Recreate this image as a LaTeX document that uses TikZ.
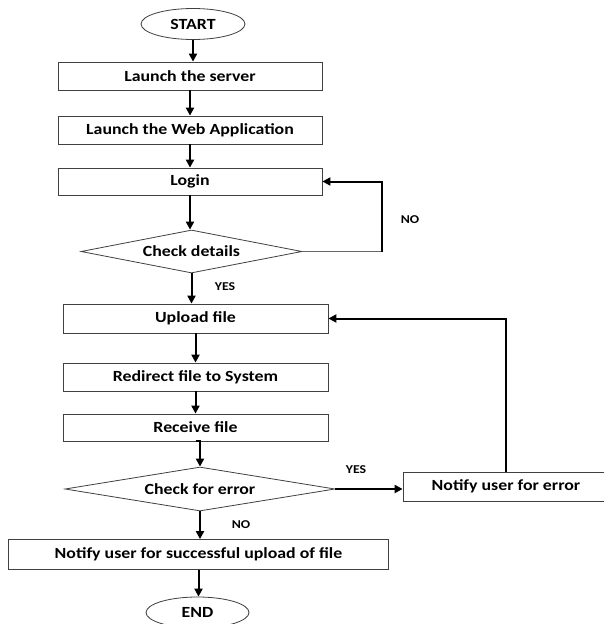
\documentclass[tikz,border=0pt]{standalone}
\usepackage{fontspec}
\setmainfont{Carlito}[FakeStretch=1.15]
\usetikzlibrary{shapes.geometric,arrows.meta}
\tikzset{
  base/.style={draw=black!75, line width=0.8pt, fill=white, font=\bfseries\fontsize{15.5}{17}\selectfont, inner sep=0pt},
  procbox/.style={base, rectangle},
  termin/.style={base, ellipse},
  decide/.style={base, diamond, aspect=5},
  arr/.style={line width=2pt, -{Triangle[length=8pt,width=8pt]}},
  thinline/.style={draw=black!60, line width=0.8pt},
  lbl/.style={font=\bfseries\fontsize{12}{14}\selectfont, inner sep=0pt}
}
\begin{document}
\begin{tikzpicture}[x=1pt,y=-1pt]
\useasboundingbox (0,0) rectangle (604,624);
\node[termin, minimum width=104pt, minimum height=31pt] (start) at (193,24) {START};
\node[procbox, minimum width=264pt, minimum height=28pt] (server) at (190,76) {Launch the server};
\node[procbox, minimum width=264pt, minimum height=28pt] (webapp) at (190,130) {Launch the Web Application};
\node[procbox, minimum width=264pt, minimum height=27pt] (login) at (190,181.5) {Login};
\node[decide, minimum width=221pt, minimum height=43pt] (check1) at (191.5,251.5) {Check details};
\node[procbox, minimum width=265pt, minimum height=29pt] (upload) at (195.5,318.5) {Upload file};
\node[procbox, minimum width=265pt, minimum height=28pt] (redirect) at (195.5,377) {Redirect file to System};
\node[procbox, minimum width=265pt, minimum height=27pt] (receive) at (195.5,427.5) {Receive file};
\node[decide, minimum width=270pt, minimum height=44pt] (check2) at (200,489) {Check for error};
\node[procbox, minimum width=206pt, minimum height=29pt] (notifyerr) at (506,486.5) {Notify user for error};
\node[procbox, minimum width=380pt, minimum height=30pt] (success) at (198.5,554.5) {Notify user for successful upload of file};
\node[termin, minimum width=103pt, minimum height=31pt] (end) at (197.5,612.5) {END};

\coordinate (loopc) at (382,251.5);
\draw[arr] (start.south) -- (start.south |- server.north);
\draw[arr] (server.south) -- (webapp.north);
\draw[arr] (webapp.south) -- (login.north);
\draw[arr] (login.south) -- (login.south |- check1.north);
\draw[arr] (check1.south) -- (check1.south |- upload.north);
\draw[thinline] (check1.east) -- (loopc);
\draw[arr] (loopc) |- (login.east);
\draw[arr] (upload.south) -- (redirect.north);
\draw[arr] (redirect.south) -- (receive.north);
\draw[arr] (receive.south) -- (receive.south -| check2.north) -- (check2.north);
\draw[arr] (check2.east) -- (check2.east -| notifyerr.west);
\draw[arr] (notifyerr.north) |- (upload.east);
\draw[arr] (check2.south) -- (check2.south |- success.north);
\draw[arr] (success.south) -- (success.south |- end.north);

\node[lbl] (yes1) at (225,287) {YES};
\node[lbl] (no1) at (410,220) {NO};
\node[lbl] (yes2) at (356,470) {YES};
\node[lbl] (no2) at (241,525) {NO};
\end{tikzpicture}
\end{document}
